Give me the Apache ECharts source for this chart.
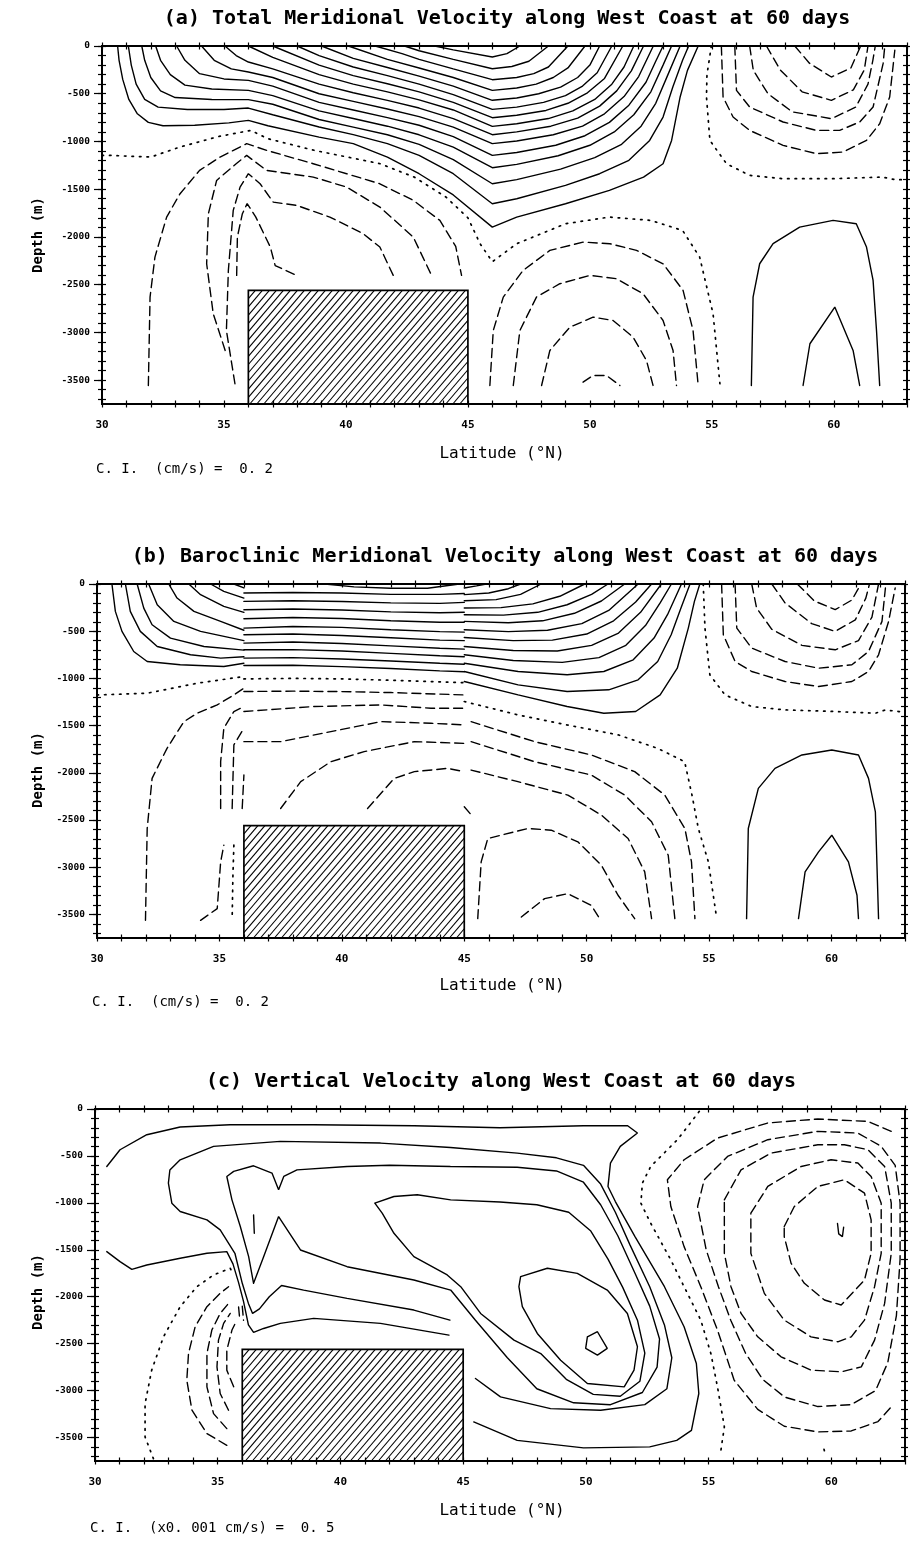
<!DOCTYPE html>
<html>
<head>
<meta charset="utf-8">
<script src="https://cdn.jsdelivr.net/npm/echarts@6/dist/echarts.min.js"></script>
<style>
html,body{margin:0;padding:0;background:#fff;}
#main{width:910px;height:1541px;}
</style>
</head>
<body>
<div id="main"></div>
<script>
// tick labels
var latLabels = [30, 35, 40, 45, 50, 55, 60];
var depthLabels = [0, -500, -1000, -1500, -2000, -2500, -3000, -3500];
// seamount: lat from, lat to, top depth
var ridge = [36, 45, -2560];

// ---------- (a) total meridional velocity ----------
var aSolid = [
 [[30.64,0],[30.7,-150],[30.85,-350],[31.1,-560],[31.45,-710],[31.9,-800],[32.5,-835],[33.8,-830],[35.2,-805],[36.0,-779],[36.8,-835],[38.9,-954],[40.3,-1023],[41.7,-1163],[43.0,-1338],[44.4,-1560],[46.0,-1897],[47.0,-1792],[49.0,-1652],[50.8,-1512],[52.2,-1373],[53.0,-1233],[53.35,-989],[53.7,-534],[54.0,-255],[54.44,0]],
 [[31.08,0],[31.2,-200],[31.4,-400],[31.75,-560],[32.3,-640],[33.5,-665],[35.0,-665],[36.0,-650],[37.0,-720],[38.9,-849],[40.3,-929],[41.7,-1023],[43.0,-1146],[44.4,-1338],[46.0,-1653],[47.0,-1600],[49.0,-1460],[50.4,-1338],[51.6,-1198],[52.45,-989],[53.0,-744],[53.4,-430],[53.8,-150],[54.05,0]],
 [[31.63,0],[31.75,-150],[32.0,-330],[32.4,-470],[33.0,-540],[34.5,-560],[36.0,-562],[37.0,-610],[38.9,-770],[40.3,-850],[41.7,-930],[43.0,-1030],[44.4,-1190],[46.0,-1443],[47.0,-1400],[48.8,-1290],[50.2,-1170],[51.3,-1030],[52.1,-840],[52.7,-600],[53.2,-300],[53.7,0]],
 [[32.2,0],[32.4,-150],[32.8,-300],[33.4,-410],[34.5,-450],[36.0,-465],[37.0,-520],[38.9,-680],[40.3,-760],[41.7,-840],[43.0,-930],[44.4,-1060],[46.0,-1275],[47.0,-1240],[48.7,-1150],[50.0,-1040],[51.0,-900],[51.8,-720],[52.5,-480],[53.0,-200],[53.35,0]],
 [[33.06,0],[33.4,-150],[34.0,-290],[35.0,-345],[36.0,-360],[37.0,-420],[38.9,-590],[40.3,-670],[41.7,-750],[43.0,-830],[44.4,-950],[46.0,-1146],[47.0,-1115],[48.6,-1040],[49.8,-940],[50.8,-800],[51.6,-620],[52.3,-380],[52.7,-160],[53.0,0]],
 [[34.08,0],[34.6,-150],[35.3,-240],[36.0,-272],[37.0,-330],[38.9,-500],[40.3,-580],[41.7,-660],[43.0,-740],[44.4,-850],[46.0,-1023],[47.0,-995],[48.5,-930],[49.7,-840],[50.6,-710],[51.4,-530],[52.0,-320],[52.6,0]],
 [[35.04,0],[35.5,-100],[36.0,-168],[37.0,-240],[38.9,-400],[40.3,-490],[41.7,-570],[43.0,-650],[44.4,-760],[46.0,-929],[47.0,-900],[48.4,-840],[49.5,-755],[50.4,-630],[51.1,-470],[51.7,-260],[52.2,0]],
 [[36.0,0],[37.0,-120],[38.9,-300],[40.3,-400],[41.7,-480],[43.0,-565],[44.4,-670],[46.0,-842],[47.0,-815],[48.3,-760],[49.3,-680],[50.2,-560],[50.9,-400],[51.4,-220],[51.8,0]],
 [[37.0,0],[38.9,-200],[40.3,-310],[41.7,-395],[43.0,-480],[44.4,-590],[46.0,-751],[47.0,-725],[48.2,-675],[49.1,-600],[49.9,-490],[50.6,-340],[51.35,0]],
 [[38.0,0],[38.9,-100],[40.3,-220],[41.7,-310],[43.0,-400],[44.4,-510],[46.0,-664],[47.0,-640],[48.1,-590],[49.0,-520],[49.7,-420],[50.3,-280],[50.9,0]],
 [[39.0,0],[40.3,-130],[41.7,-225],[43.0,-315],[44.4,-420],[46.0,-569],[47.0,-545],[47.9,-500],[48.8,-430],[49.5,-330],[50.0,-200],[50.4,0]],
 [[40.1,0],[41.7,-140],[43.0,-230],[44.4,-330],[46.0,-465],[47.0,-440],[47.8,-400],[48.5,-330],[49.1,-230],[49.8,0]],
 [[41.2,0],[42.3,-80],[43.0,-140],[44.4,-240],[46.0,-353],[47.0,-330],[47.7,-290],[48.3,-220],[49.1,0]],
 [[42.4,0],[43.0,-50],[44.4,-140],[46.0,-238],[46.8,-215],[47.5,-160],[48.3,0]],
 [[43.64,0],[44.4,-40],[46.0,-115],[46.6,-80],[47.13,0]],
 [[56.62,-3556],[56.69,-2630],[56.96,-2281],[57.51,-2071],[58.6,-1897],[59.97,-1827],[60.92,-1862],[61.34,-2106],[61.61,-2456],[61.75,-2980],[61.88,-3556]],
 [[58.74,-3556],[59.02,-3119],[60.04,-2735],[60.79,-3189],[61.06,-3556]]
];
var aDashed = [
 [[31.9,-3556],[31.97,-2630],[32.17,-2211],[32.65,-1792],[33.2,-1547],[34.0,-1303],[34.84,-1163],[35.93,-1023],[36.75,-1093],[38.66,-1233],[40.03,-1338],[41.39,-1443],[42.76,-1617],[43.85,-1827],[44.5,-2100],[44.74,-2403]],
 [[35.05,-3189],[34.56,-2805],[34.29,-2281],[34.36,-1757],[34.7,-1408],[35.5,-1233],[35.93,-1146],[36.75,-1303],[38.66,-1373],[40.03,-1478],[41.39,-1687],[42.76,-2001],[43.51,-2403]],
 [[35.45,-3538],[35.1,-2980],[35.18,-2351],[35.38,-1722],[35.66,-1478],[36.0,-1338],[36.48,-1443],[37.02,-1635],[37.98,-1670],[39.34,-1792],[40.71,-1967],[41.39,-2106],[41.94,-2403]],
 [[35.52,-2403],[35.55,-2000],[35.75,-1760],[35.95,-1650],[36.3,-1790],[36.9,-2106],[37.1,-2300],[37.98,-2403]],
 [[45.9,-3556],[46.04,-2980],[46.45,-2630],[47.26,-2351],[48.36,-2141],[49.72,-2054],[50.82,-2071],[51.91,-2141],[53.0,-2281],[53.82,-2560],[54.23,-2980],[54.44,-3556]],
 [[46.86,-3556],[47.13,-2980],[47.81,-2630],[48.77,-2490],[50.0,-2403],[51.09,-2438],[52.18,-2595],[53.0,-2875],[53.41,-3189],[53.55,-3556]],
 [[48.02,-3556],[48.36,-3189],[49.18,-2945],[50.13,-2840],[50.95,-2875],[51.77,-3049],[52.32,-3294],[52.59,-3556]],
 [[49.72,-3521],[50.13,-3451],[50.68,-3451],[51.23,-3556]],
 [[55.39,0],[55.46,-534],[55.87,-744],[56.55,-884],[57.92,-1041],[59.29,-1128],[60.38,-1111],[61.34,-989],[61.88,-814],[62.29,-534],[62.5,-45]],
 [[55.94,0],[56.01,-465],[56.55,-639],[57.92,-796],[59.29,-884],[60.24,-884],[61.06,-796],[61.61,-639],[62.02,-185],[62.09,0]],
 [[56.55,0],[56.7,-255],[57.3,-500],[58.3,-690],[59.9,-761],[60.9,-640],[61.4,-400],[61.6,-150],[61.7,0]],
 [[57.24,0],[57.8,-250],[58.7,-480],[59.9,-569],[60.8,-460],[61.25,-250],[61.4,0]],
 [[58.4,0],[59.0,-180],[59.9,-325],[60.7,-230],[61.1,0]]
];
var aDotted = [
 [[30.0,-1146],[30.3,-1146],[32.0,-1163],[33.2,-1058],[34.8,-947],[36.1,-884],[36.8,-971],[38.7,-1093],[41.4,-1233],[42.8,-1373],[44.1,-1582],[45.0,-1800],[45.5,-2071],[46.0,-2260],[47.0,-2071],[49.0,-1862],[50.8,-1792],[52.5,-1827],[53.8,-1932],[54.5,-2211],[55.05,-2805],[55.33,-3538]],
 [[54.98,0],[54.8,-300],[54.78,-534],[54.92,-989],[55.6,-1233],[56.55,-1355],[57.9,-1390],[60.0,-1390],[62.0,-1373],[62.5,-1400],[63.0,-1400]]
];

// ---------- (b) baroclinic meridional velocity ----------
var bSolid = [
 [[30.61,0],[30.75,-290],[31.02,-502],[31.5,-715],[32.05,-821],[33.4,-856],[35.18,-874],[36.0,-839]],
 [[31.16,0],[31.36,-290],[31.77,-502],[32.46,-662],[33.82,-750],[35.05,-785],[36.0,-770]],
 [[31.64,0],[31.91,-255],[32.25,-432],[33.0,-573],[34.37,-662],[36.0,-700]],
 [[32.11,0],[32.46,-219],[33.14,-396],[34.23,-502],[36.0,-600]],
 [[32.93,0],[33.27,-149],[33.96,-290],[35.05,-396],[36.0,-490]],
 [[33.75,0],[34.23,-113],[35.18,-237],[36.0,-300]],
 [[34.64,0],[35.18,-78],[36.0,-149]],
 [[35.59,0],[36.0,-42]],
 [[39.3,0],[40.5,-30],[42.0,-45],[43.5,-45],[44.8,0]],
 [[36,-96],[38,-90],[40,-95],[42,-110],[44,-110],[45,-100]],
 [[36,-184],[38,-178],[40,-185],[42,-200],[44,-205],[45,-195]],
 [[36,-272],[38,-265],[40,-275],[42,-295],[44,-305],[45,-300]],
 [[36,-368],[38,-355],[40,-365],[42,-390],[44,-405],[45,-405]],
 [[36,-467],[38,-450],[40,-460],[42,-485],[44,-505],[45,-510]],
 [[36,-538],[38,-530],[40,-545],[42,-570],[44,-595],[45,-600]],
 [[36,-626],[38,-615],[40,-630],[42,-655],[44,-680],[45,-690]],
 [[36,-697],[38,-695],[40,-710],[42,-735],[44,-760],[45,-770]],
 [[36,-785],[38,-780],[40,-795],[42,-815],[44,-840],[45,-850]],
 [[36,-863],[38,-860],[40,-875],[42,-895],[44,-920],[45,-930]],
 [[45.0,-1033],[47.2,-1175],[49.2,-1298],[50.7,-1369],[52.0,-1351],[53.0,-1175],[53.7,-892],[54.15,-467],[54.4,-184],[54.62,0]],
 [[45.0,-927],[47.2,-1068],[49.2,-1139],[50.9,-1121],[52.1,-1015],[52.9,-821],[53.45,-538],[53.85,-255],[54.22,0]],
 [[45.0,-839],[47.2,-927],[49.2,-962],[50.7,-927],[51.9,-803],[52.75,-573],[53.3,-325],[53.87,0]],
 [[45.0,-750],[47.0,-810],[49.0,-830],[50.5,-780],[51.6,-650],[52.4,-440],[53.0,-200],[53.46,0]],
 [[45.0,-662],[47.0,-705],[48.8,-710],[50.2,-650],[51.3,-520],[52.2,-300],[53.05,0]],
 [[45.0,-566],[47.0,-600],[48.6,-595],[50.0,-530],[51.1,-390],[52.0,-190],[52.65,0]],
 [[45.0,-485],[46.8,-505],[48.4,-490],[49.8,-420],[50.9,-280],[52.1,0]],
 [[45.0,-396],[46.8,-410],[48.2,-390],[49.5,-310],[50.6,-180],[51.55,0]],
 [[45.0,-325],[46.6,-330],[48.0,-300],[49.2,-220],[50.2,-110],[50.87,0]],
 [[45.0,-255],[46.5,-250],[47.8,-210],[48.9,-130],[49.92,0]],
 [[45.0,-177],[46.3,-165],[47.3,-110],[48.14,0]],
 [[45.0,-113],[46.0,-95],[46.8,-50],[47.3,0]],
 [[45.0,-42],[45.5,-20],[45.9,0]],
 [[56.53,-3545],[56.6,-2590],[57.01,-2165],[57.69,-1953],[58.79,-1811],[60.01,-1758],[61.1,-1811],[61.51,-2059],[61.79,-2413],[61.92,-3545]],
 [[58.65,-3545],[58.92,-3050],[59.47,-2837],[60.01,-2661],[60.69,-2944],[61.04,-3297],[61.1,-3545]]
];
var bDashed = [
 [[36,-1139],[38,-1135],[40,-1140],[42,-1150],[45,-1175]],
 [[36,-1351],[38.87,-1298],[41.6,-1281],[43.64,-1316],[45,-1316]],
 [[36,-1670],[37.5,-1670],[39.55,-1564],[41.6,-1458],[43.64,-1475],[45,-1493]],
 [[37.5,-2378],[38.32,-2094],[39.55,-1882],[40.91,-1776],[42.96,-1670],[45,-1688]],
 [[41.05,-2378],[42.14,-2059],[42.96,-1988],[44.32,-1953],[45,-1988]],
 [[31.98,-3563],[32.05,-2590],[32.25,-2059],[32.86,-1741],[33.55,-1458],[34.09,-1369],[34.91,-1281],[35.59,-1175],[36.0,-1104]],
 [[35.05,-2378],[35.05,-1882],[35.18,-1528],[35.59,-1351],[36.0,-1298]],
 [[35.52,-2378],[35.59,-1705],[36.0,-1528]],
 [[35.93,-2378],[36.0,-2024]],
 [[34.23,-3563],[34.91,-3439],[35.05,-2944],[35.18,-2767]],
 [[45.28,-1458],[47.87,-1670],[50.19,-1811],[51.96,-1988],[53.19,-2236],[54.01,-2590],[54.28,-2944],[54.42,-3545]],
 [[45.28,-1670],[47.87,-1882],[50.19,-2024],[51.55,-2236],[52.65,-2519],[53.33,-2873],[53.6,-3545]],
 [[45.28,-1971],[47.19,-2094],[49.23,-2236],[50.6,-2448],[51.69,-2696],[52.37,-3050],[52.65,-3545]],
 [[45.55,-3545],[45.69,-2944],[45.96,-2696],[47.6,-2590],[48.55,-2608],[49.64,-2731],[50.6,-2979],[51.28,-3297],[51.96,-3545]],
 [[47.33,-3527],[48.28,-3333],[49.23,-3280],[50.19,-3404],[50.53,-3545]],
 [[45.0,-2360],[45.3,-2450]],
 [[55.51,0],[55.58,-538],[56.06,-821],[56.74,-927],[58.1,-1033],[59.47,-1086],[60.83,-1033],[61.51,-927],[61.92,-750],[62.33,-396],[62.6,-42]],
 [[56.06,0],[56.13,-467],[56.74,-679],[58.1,-821],[59.47,-892],[60.83,-856],[61.51,-715],[62.06,-396],[62.2,-42]],
 [[56.74,0],[56.94,-255],[57.56,-480],[58.79,-650],[60.15,-697],[61.1,-600],[61.65,-350],[61.92,0]],
 [[57.56,0],[58.1,-200],[59.19,-420],[60.15,-502],[60.97,-380],[61.4,-150],[61.55,0]],
 [[58.6,0],[59.3,-180],[60.15,-272],[60.83,-170],[61.2,0]]
];
var bDotted = [
 [[30.0,-1175],[30.14,-1175],[32.05,-1157],[34.1,-1051],[36.0,-980]],
 [[36.0,-1005],[38,-1000],[40,-1005],[42,-1020],[45.0,-1045]],
 [[45.0,-1245],[47.2,-1387],[49.2,-1493],[51.3,-1599],[52.9,-1741],[54.0,-1882],[54.3,-2236],[54.56,-2590],[54.97,-2944],[55.31,-3545]],
 [[54.76,0],[54.83,-467],[55.03,-962],[55.65,-1175],[56.74,-1298],[58.1,-1334],[60.15,-1351],[61.79,-1369],[62.2,-1334],[62.74,-1351],[63.0,-1360]],
 [[35.59,-2767],[35.55,-3100],[35.52,-3545]]
];

// ---------- (c) vertical velocity ----------
var cSolid = [
 [[30.48,-612],[31.02,-434],[32.11,-274],[33.47,-192],[35.5,-167],[38.9,-167],[43.0,-178],[46.5,-200],[49.9,-178],[51.7,-178],[52.1,-256],[51.4,-398],[51.0,-576],[50.9,-825],[51.2,-986],[52.0,-1359],[53.2,-1893],[54.0,-2320],[54.5,-2711],[54.6,-3031],[54.3,-3423],[53.7,-3530],[52.6,-3600],[49.9,-3610],[47.2,-3530],[45.43,-3334]],
 [[44.46,-2249],[42.99,-2142],[40.27,-2017],[38.5,-1930],[37.6,-1880],[37.1,-2000],[36.7,-2130],[36.42,-2178],[36.25,-2071],[36.0,-1857],[35.7,-1537],[35.1,-1288],[34.56,-1181],[33.47,-1092],[33.13,-1003],[32.99,-790],[33.05,-650],[33.47,-541],[34.83,-398],[37.55,-345],[41.63,-363],[44.48,-410],[47.2,-470],[48.8,-520],[49.9,-600],[50.6,-800],[51.2,-1100],[51.8,-1450],[52.6,-1893],[53.2,-2300],[53.5,-2650],[53.3,-2980],[52.4,-3150],[50.6,-3209],[48.56,-3192],[46.52,-3067],[45.5,-2871]],
 [[36.46,-1857],[36.87,-1573],[37.48,-1146],[38.37,-1502],[40.27,-1680],[42.99,-1822],[44.49,-1929],[45.5,-2250],[46.8,-2650],[48.0,-2980],[49.5,-3130],[51.0,-3150],[52.3,-3020],[52.9,-2750],[53.0,-2450],[52.6,-2100],[52.0,-1750],[51.3,-1350],[50.6,-1020],[49.9,-780],[48.8,-660],[47.2,-620],[44.48,-612],[42.0,-600],[40.27,-612],[38.23,-648],[37.69,-719],[37.48,-861],[37.21,-683],[36.46,-605],[35.65,-665],[35.37,-719],[35.58,-968],[35.92,-1252],[36.26,-1573],[36.46,-1857]],
 [[41.4,-1003],[42.18,-932],[43.13,-914],[44.49,-968],[46.5,-990],[48.0,-1020],[49.3,-1100],[50.2,-1300],[50.9,-1600],[51.5,-1900],[52.1,-2250],[52.4,-2600],[52.2,-2900],[51.4,-3060],[50.3,-3040],[49.2,-2880],[48.16,-2605],[47.07,-2462],[45.71,-2178],[44.9,-1893],[44.35,-1768],[42.99,-1573],[42.18,-1324],[41.7,-1110],[41.4,-1003]],
 [[47.34,-1786],[48.43,-1697],[49.65,-1751],[50.87,-1929],[51.69,-2178],[52.1,-2533],[51.96,-2782],[51.56,-2960],[50.06,-2925],[48.97,-2676],[48.02,-2391],[47.41,-2106],[47.27,-1893],[47.34,-1786]],
 [[50.06,-2427],[50.47,-2373],[50.87,-2551],[50.47,-2622],[49.99,-2551],[50.06,-2427]],
 [[30.48,-1519],[31.02,-1626],[31.5,-1708],[32.11,-1662],[33.47,-1590],[34.56,-1537],[35.37,-1519],[35.62,-1650],[35.85,-1850],[36.05,-2050],[36.25,-2300],[36.46,-2380],[36.87,-2338],[37.55,-2284],[38.91,-2231],[41.63,-2284],[44.42,-2409]],
 [[36.46,-1128],[36.49,-1324]],
 [[60.25,-1220],[60.3,-1330],[60.45,-1360],[60.5,-1260]]
];
var cDashed = [
 [[35.37,-3583],[34.56,-3458],[33.95,-3209],[33.74,-2889],[33.81,-2604],[34.08,-2320],[34.56,-2106],[35.1,-1964],[35.44,-1893]],
 [[35.37,-3405],[34.83,-3245],[34.56,-2960],[34.56,-2604],[34.76,-2355],[35.1,-2178],[35.44,-2071]],
 [[35.44,-3209],[35.1,-3031],[34.97,-2747],[35.03,-2462],[35.24,-2284],[35.51,-2178]],
 [[35.65,-2960],[35.37,-2782],[35.37,-2569],[35.58,-2355],[35.78,-2249]],
 [[35.85,-2110],[35.9,-2250]],
 [[36.0,-2100],[36.05,-2250]],
 [[58.08,-1252],[58.49,-1039],[59.45,-825],[60.53,-754],[61.35,-897],[61.62,-1181],[61.62,-1537],[61.35,-1822],[60.4,-2088],[59.72,-2035],[58.9,-1857],[58.36,-1644],[58.08,-1359],[58.08,-1252]],
 [[56.72,-1110],[57.41,-825],[58.77,-612],[59.99,-541],[61.08,-576],[61.62,-719],[62.03,-1003],[62.03,-1537],[61.76,-1893],[61.35,-2249],[60.81,-2427],[60.26,-2480],[59.17,-2427],[58.08,-2249],[57.27,-1964],[56.72,-1537],[56.72,-1110]],
 [[55.64,-968],[56.32,-648],[57.54,-470],[59.45,-381],[60.53,-381],[61.49,-434],[62.17,-612],[62.44,-1003],[62.44,-1537],[62.17,-2071],[61.76,-2462],[61.22,-2747],[60.4,-2800],[59.17,-2782],[57.95,-2640],[57.0,-2427],[56.32,-2178],[55.91,-1893],[55.64,-1537],[55.64,-968]],
 [[54.55,-1039],[54.82,-754],[55.77,-505],[57.41,-327],[59.45,-238],[61.08,-256],[62.03,-398],[62.6,-600],[62.8,-1000],[62.8,-1600],[62.65,-2200],[62.3,-2700],[61.8,-3000],[60.8,-3150],[59.45,-3170],[58.1,-3070],[57.2,-2880],[56.5,-2600],[55.9,-2250],[55.4,-1893],[54.9,-1500],[54.55,-1039]],
 [[62.44,-238],[61.49,-132],[59.45,-107],[57.41,-149],[55.36,-310],[54.0,-541],[53.32,-754],[53.46,-1039],[54.0,-1466],[54.68,-1893],[55.36,-2355],[56.04,-2889],[57.0,-3200],[58.08,-3380],[59.45,-3440],[60.81,-3430],[61.9,-3330],[62.44,-3174]]
];
var cDotted = [
 [[32.38,-3725],[32.04,-3494],[32.04,-3138],[32.31,-2782],[32.79,-2427],[33.47,-2106],[34.15,-1893],[34.83,-1768],[35.51,-1697],[35.62,-1760]],
 [[54.62,-25],[53.73,-327],[52.64,-612],[52.3,-790],[52.24,-1003],[52.64,-1217],[53.46,-1608],[54.0,-1893],[54.68,-2249],[55.09,-2604],[55.36,-2960],[55.64,-3387],[55.5,-3636]],
 [[59.7,-3625],[59.72,-3645]]
];

var panels = [
 {grid:{left:102, top:46, width:805, height:358}, solid:aSolid, dashed:aDashed, dotted:aDotted,
  title:'(a) Total Meridional Velocity along West Coast at 60 days', titleX:507, titleY:19,
  depthY:235, latY:454, ci:'C. I.  (cm/s) =  0. 2', ciX:96, ciY:469},
 {grid:{left:97, top:584, width:808, height:354}, solid:bSolid, dashed:bDashed, dotted:bDotted,
  title:'(b) Baroclinic Meridional Velocity along West Coast at 60 days', titleX:505, titleY:557,
  depthY:770, latY:986, ci:'C. I.  (cm/s) =  0. 2', ciX:92, ciY:1002},
 {grid:{left:95, top:1109, width:810, height:352}, solid:cSolid, dashed:cDashed, dotted:cDotted,
  title:'(c) Vertical Velocity along West Coast at 60 days', titleX:501, titleY:1082,
  depthY:1292, latY:1511, ci:'C. I.  (x0. 001 cm/s) =  0. 5', ciX:90, ciY:1528}
];

var MONO = '"DejaVu Sans Mono", monospace';
var minorDepth = [];
for (var d = -3700; d <= 0; d += 100) minorDepth.push(d);

function xAx(i, pos, inside, withLabels) {
  return {
    type:'value', gridIndex:i, position:pos, min:30, max:63, interval:1,
    axisLine:{show:true, onZero:false, lineStyle:{color:'#000', width:1.8}},
    axisTick:{show:true, inside:inside, length:3.5, lineStyle:{color:'#000', width:1.2}},
    splitLine:{show:false},
    axisLabel: withLabels ? {
      show:true, interval:0, margin:16, color:'#000', fontFamily:MONO, fontWeight:'bold', fontSize:11,
      formatter:function (v) { return latLabels.indexOf(v) >= 0 ? String(v) : ''; }
    } : {show:false}
  };
}
function yAx(i, pos, inside, len, ticks, withLabels) {
  return {
    type:'value', gridIndex:i, position:pos, min:-3750, max:0,
    axisLine:{show:true, onZero:false, lineStyle:{color:'#000', width:1.8}},
    axisTick:{show:true, inside:inside, length:len, customValues:ticks, lineStyle:{color:'#000', width:1.2}},
    splitLine:{show:false},
    axisLabel: withLabels ? {
      show:true, customValues:depthLabels, margin:12, color:'#000', fontFamily:MONO, fontWeight:'bold', fontSize:9.5,
      formatter:function (v) { return String(v); }
    } : {show:false}
  };
}

// hatched seamount box
function renderRidge(params, api) {
  var p0 = api.coord([api.value(0), api.value(2)]);
  var p1 = api.coord([api.value(1), api.value(3)]);
  var x0 = p0[0], y0 = p0[1], x1 = p1[0], y1 = p1[1];
  var h = y1 - y0, k = 0.85, step = 7;
  var kids = [];
  for (var s = x0 - h * k; s < x1; s += step) {
    var xa = s, ya = y1, xb = s + h * k, yb = y0;
    if (xa < x0) { ya = y1 - (x0 - xa) / k; xa = x0; }
    if (xb > x1) { yb = y1 - (x1 - s) / k; xb = x1; }
    if (xb <= xa) continue;
    kids.push({type:'line', shape:{x1:xa, y1:ya, x2:xb, y2:yb}, style:{stroke:'#000', lineWidth:1.1}});
  }
  kids.push({type:'rect', shape:{x:x0, y:y0, width:x1 - x0, height:h}, style:{fill:null, stroke:'#000', lineWidth:1.7}});
  return {type:'group', children:kids};
}

var grids = [], xAxes = [], yAxes = [], series = [], graphics = [];
panels.forEach(function (p, i) {
  grids.push(p.grid);
  var xi = xAxes.length, yi = yAxes.length;
  xAxes.push(xAx(i, 'bottom', false, true), xAx(i, 'bottom', true, false),
             xAx(i, 'top', false, false), xAx(i, 'top', true, false));
  yAxes.push(yAx(i, 'left', false, 4, minorDepth, true), yAx(i, 'left', true, 4, minorDepth, false),
             yAx(i, 'left', false, 8, depthLabels, false),
             yAx(i, 'right', true, 4, minorDepth, false), yAx(i, 'right', false, 3, minorDepth, false));

  function addLines(list, type, width) {
    list.forEach(function (line) {
      series.push({
        type:'line', xAxisIndex:xi, yAxisIndex:yi, data:line, symbol:'none', silent:true,
        animation:false, z:2, lineStyle:{color:'#000', width:width, type:type, cap:'round'}
      });
    });
  }
  addLines(p.solid, 'solid', 1.4);
  addLines(p.dashed, [9, 5], 1.4);
  addLines(p.dotted, [1.5, 6], 1.7);

  series.push({
    type:'custom', xAxisIndex:xi, yAxisIndex:yi, renderItem:renderRidge, silent:true, animation:false, z:4,
    encode:{x:[0, 1], y:[2, 3]},
    data:[[ridge[0], ridge[1], ridge[2], -3750]]
  });

  graphics.push(
    {type:'text', x:p.titleX, y:p.titleY, style:{text:p.title, fill:'#000', font:'bold 20px ' + MONO, align:'center', verticalAlign:'middle'}},
    {type:'text', x:38, y:p.depthY, rotation:Math.PI / 2, style:{text:'Depth (m)', fill:'#000', font:'bold 14px ' + MONO, align:'center', verticalAlign:'middle'}},
    {type:'text', x:502, y:p.latY, style:{text:'Latitude (°N)', fill:'#000', font:'16px ' + MONO, align:'center', verticalAlign:'middle'}},
    {type:'text', x:p.ciX, y:p.ciY, style:{text:p.ci, fill:'#000', font:'14px ' + MONO, align:'left', verticalAlign:'middle'}}
  );
});

var chart = echarts.init(document.getElementById('main'));
chart.setOption({
  backgroundColor:'#fff',
  animation:false,
  grid:grids,
  xAxis:xAxes,
  yAxis:yAxes,
  series:series,
  graphic:graphics
});
</script>
</body>
</html>
